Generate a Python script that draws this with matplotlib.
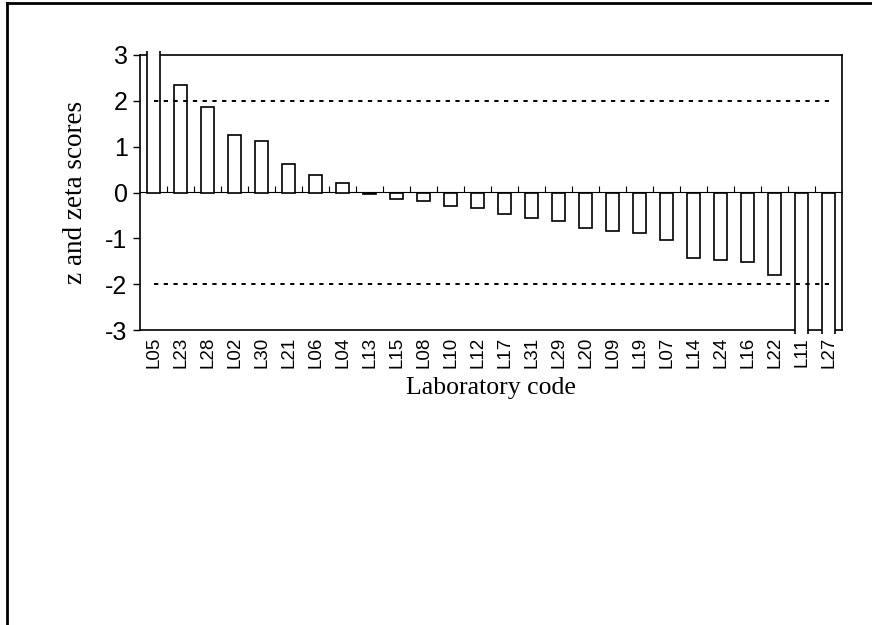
import matplotlib
matplotlib.use("Agg")
import matplotlib.pyplot as plt
from matplotlib.lines import Line2D
from matplotlib.patches import Rectangle

# laboratory codes, sorted by score
labs = ["L05", "L23", "L28", "L02", "L30", "L21", "L06", "L04", "L13",
        "L15", "L08", "L10", "L12", "L17", "L31", "L29", "L20", "L09",
        "L19", "L07", "L14", "L24", "L16", "L22", "L11", "L27"]
# z / zeta scores (L05, L11, L27 are off scale)
scores = [4.5, 2.35, 1.87, 1.26, 1.13, 0.63, 0.38, 0.21, -0.03,
          -0.14, -0.18, -0.30, -0.34, -0.47, -0.56, -0.63, -0.77, -0.85,
          -0.89, -1.04, -1.42, -1.47, -1.51, -1.80, -4.2, -3.9]
limits = [2, -2]
yticks = [-3, -2, -1, 0, 1, 2, 3]

fig = plt.figure(figsize=(8.72, 6.25), dpi=100)
ax = fig.add_axes([140/872, 1-330/625, 702/872, 275/625])

x = list(range(len(labs)))
bars = ax.bar(x, scores, width=0.46, color="white", edgecolor="black",
              linewidth=1.2, zorder=3)
# let the off-scale bars stick out a little like the original
clip = Rectangle((0, -0.016), 1, 1.032, transform=ax.transAxes,
                 facecolor="none", edgecolor="none")
for b in bars:
    b.set_clip_path(clip)

for lim in limits:
    ax.plot([x[0], x[-1]], [lim, lim], color="black", lw=1.4,
            linestyle=(0, (2.2, 2.8)), zorder=4)

ax.set_xlim(-0.5, len(labs) - 0.5)
ax.set_ylim(-3, 3)
ax.set_yticks(yticks)
ax.set_yticklabels([str(v) for v in yticks], fontfamily="Liberation Sans",
                   fontsize=18)
ax.tick_params(axis="y", direction="out", length=5, width=1, pad=4)

ax.set_xticks(x)
ax.set_xticklabels(labs, rotation=90, fontfamily="Liberation Sans",
                   fontsize=13.5)
ax.tick_params(axis="x", length=0, pad=5)

for s in ax.spines.values():
    s.set_linewidth(1.2)

# zero axis with ticks between categories
zero = ax.secondary_xaxis(0.5)
zero.set_xticks([i + 0.5 for i in x[:-1]])
zero.set_xticklabels([])
zero.tick_params(axis="x", direction="out", length=4, width=0.8)
zero.spines["bottom"].set_linewidth(0.9)

ax.set_ylabel("z and zeta scores", fontfamily="Liberation Serif",
              fontsize=19.5, labelpad=12)
ax.set_xlabel("Laboratory code", fontfamily="Liberation Serif",
              fontsize=18.5, labelpad=6)

# outer chart frame (top and left edges visible)
fig.add_artist(Line2D([6.5/872, 1], [1-3/625, 1-3/625], color="black",
                      lw=2, transform=fig.transFigure))
fig.add_artist(Line2D([6.5/872, 6.5/872], [0, 1-3/625], color="black",
                      lw=2, transform=fig.transFigure))

fig.savefig("out.png", dpi=100)
